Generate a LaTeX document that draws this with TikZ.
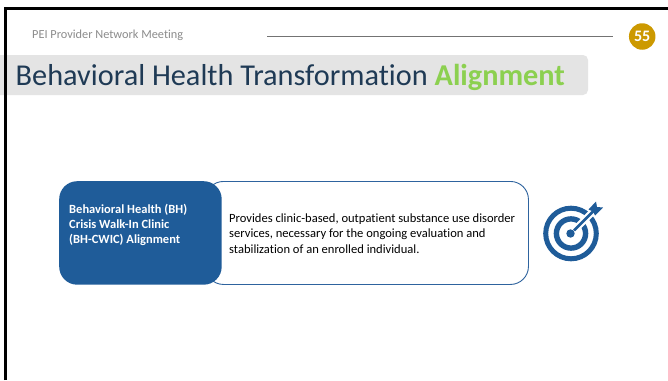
\documentclass[tikz,border=0pt]{standalone}
\usepackage{fontspec}
\setmainfont[Ligatures=NoCommon]{Carlito}
\definecolor{bandgrey}{HTML}{E4E4E4}
\definecolor{navy}{HTML}{1F3A55}
\definecolor{leaf}{HTML}{8CD050}
\definecolor{gold}{HTML}{CC9900}
\definecolor{bhblue}{HTML}{1F5C99}
\definecolor{edgeblue}{HTML}{2E639E}
\definecolor{hdrgrey}{HTML}{8C8C8C}
\tikzset{
  frameline/.style={black,line width=2.6pt},
  hdrline/.style={draw=black!55,line width=0.7pt},
  boxtext/.style={anchor=west,align=left,inner sep=0pt,font=\fontsize{12.55}{15.4}\selectfont},
  ring/.style={draw=bhblue,fill=none},
}
\begin{document}
\begin{tikzpicture}[x=1pt,y=-1pt]
\useasboundingbox (0,0) rectangle (668,380);
\fill[white] (0,0) rectangle (668,380);
% title band
\fill[bandgrey,rounded corners=5pt] (-10,55) rectangle (588,95);
\draw[frameline] (5.5,380) -- (5.5,8.7) -- (668,8.7);
% header
\node[anchor=west,inner sep=0pt,text=hdrgrey,font=\fontsize{12.3}{14}\selectfont] (hdr) at (32,35) {PEI Provider Network Meeting};
\coordinate (la) at (267,36.2);
\coordinate (lb) at (613,36.2);
\draw[hdrline] (la) -- (lb);
\node[circle,fill=gold,minimum size=26.5pt,inner sep=0pt,text=white,font=\fontsize{16}{18}\selectfont\bfseries] (num) at (642.2,36.5) {55};
\node[anchor=west,inner sep=0pt,text=navy,font=\fontsize{30.3}{34}\selectfont] (title) at (15.5,77) {Behavioral Health Transformation \textcolor{leaf}{\textbf{Alignment}}};
% boxes
\node[draw=edgeblue,line width=0.9pt,fill=white,rounded corners=18pt,minimum width=323pt,minimum height=103pt,anchor=north west,inner sep=0pt] (body) at (205,181) {};
\node[fill=bhblue,rounded corners=18pt,minimum width=162.5pt,minimum height=103.5pt,anchor=north west,inner sep=0pt] (head) at (59,181) {};
\node[boxtext,text=white,font=\fontsize{12.5}{15}\selectfont\bfseries] (headtxt) at (69,225.3) {Behavioral Health (BH)\\Crisis Walk-In Clinic\\(BH-CWIC) Alignment};
\node[boxtext,text=black] (bodytxt) at (229,233.5) {Provides clinic-based, outpatient substance use disorder\\services, necessary for the ongoing evaluation and\\stabilization of an enrolled individual.};
% target icon
\draw[ring,line width=5pt] (571,233.5) circle (25.3);
\draw[ring,line width=5.4pt] (571,233.5) circle (14.6);
\draw[white,line width=7pt] (571,233.5) -- (597,207.5);
\fill[bhblue] (570.5,233.5) circle (4.2);
\draw[bhblue,line width=2.8pt] (574,230.5) -- (594,210.5);
\fill[bhblue] (588.5,209.5) -- (596,201.5) -- (597,207) -- (603,207.5) -- (595,215.5) -- (593,211.5) -- cycle;
\end{tikzpicture}
\end{document}
